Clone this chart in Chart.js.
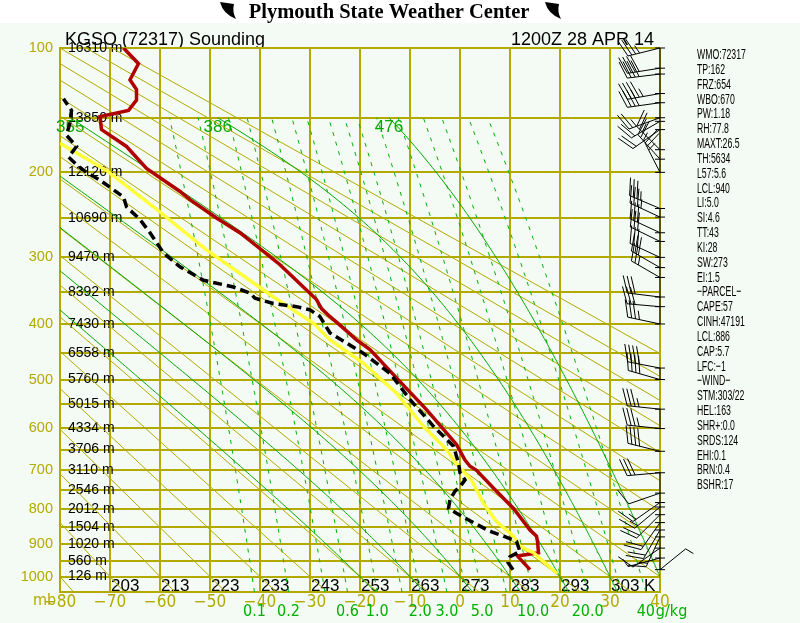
<!DOCTYPE html>
<html>
<head>
<meta charset="utf-8">
<script src="https://cdn.jsdelivr.net/npm/chart.js@4.4.1/dist/chart.umd.min.js"></script>
<style>
  html, body { margin: 0; padding: 0; background: #f4faf4; }
  #wrap { width: 800px; height: 623px; }
</style>
</head>
<body>
<div id="wrap"><canvas id="stuve" width="800" height="623"></canvas></div>
<script>
// sounding values: pressure (mb) and temperature (C)
const tempP = [978, 936, 926, 892, 877, 859, 799, 753, 700, 690, 675, 638, 561, 504, 444, 427, 402, 388, 375, 361, 310, 268, 250, 229, 220, 196, 175, 160, 149, 144, 136, 128, 121, 110, 100];
const tempC = [14.0, 11.5, 15.7, 15.5, 15.3, 14.0, 10.7, 7.3, 3.3, 2.0, 1.0, -0.7, -6.7, -12.0, -18.0, -20.7, -24.0, -26.0, -27.7, -28.7, -36.0, -44.0, -48.7, -54.0, -56.0, -62.7, -66.7, -71.7, -72.0, -66.3, -64.7, -64.7, -66.0, -64.3, -67.3];

const dewP = [978, 956, 938, 922, 892, 877, 863, 833, 812, 799, 775, 753, 741, 724, 706, 682, 642, 597, 540, 488, 451, 415, 388, 377, 372, 367, 359, 351, 342, 332, 313, 294, 268, 252, 237, 226, 208, 200, 194, 185, 175, 165, 154, 144, 135];
const dewC = [10.6, 9.6, 10.0, 12.0, 11.3, 8.7, 6.0, 2.0, -0.7, -2.3, -2.0, -1.0, 0.0, 1.0, 0.0, -0.3, -1.3, -5.3, -10.0, -14.0, -19.3, -26.0, -28.0, -30.0, -32.7, -37.3, -41.0, -42.0, -45.3, -51.3, -56.0, -59.3, -62.0, -64.0, -66.7, -67.3, -72.0, -74.7, -76.3, -78.3, -76.7, -78.7, -78.0, -77.7, -79.3];

const parcelP = [990, 926, 907, 877, 835, 785, 724, 690, 650, 597, 527, 469, 439, 427, 399, 357, 290, 237, 198, 172];
const parcelC = [19.4, 14.7, 12.0, 10.7, 7.3, 4.7, 2.3, -0.3, -2.7, -7.3, -12.7, -19.3, -24.0, -26.0, -29.3, -37.3, -50.7, -61.3, -70.7, -80.0];

// winds: direction (deg) and speed (kt)
const windP = [100, 113, 117, 131, 138, 150, 153, 160, 178, 187, 200, 239, 249, 268, 279, 300, 314, 328, 357, 372, 400, 478, 500, 560, 602, 654, 706, 758, 783, 795, 816, 838, 859, 879, 912, 942, 978];
const windDir = [256, 261, 263, 260, 262, 250, 240, 235, 315, 318, 333, 293, 295, 295, 296, 295, 300, 300, 277, 275, 282, 281, 286, 276, 276, 284, 265, 251, 235, 230, 225, 215, 210, 205, 235, 255, 51];
const windKt = [35, 40, 40, 45, 40, 25, 20, 20, 25, 25, 25, 35, 35, 30, 30, 30, 30, 25, 30, 30, 35, 40, 40, 35, 35, 40, 30, 10, 15, 15, 20, 20, 20, 15, 10, 5, 5];

// heights of the mandatory levels
const heightP = [100, 150, 200, 250, 300, 350, 400, 450, 500, 550, 600, 650, 700, 750, 800, 850, 900, 950, 1000];
const heightM = [16310, 13850, 12120, 10690, 9470, 8392, 7430, 6558, 5760, 5015, 4334, 3706, 3110, 2546, 2012, 1504, 1020, 560, 126];

// background lines of the diagram
const pressureTicks = [100, 150, 200, 250, 300, 350, 400, 450, 500, 550, 600, 650, 700, 750, 800, 850, 900, 950, 1000, 1050];
const dryThetaK = [193, 203, 213, 223, 233, 243, 253, 263, 273, 283, 293, 303, 313, 323, 333, 343, 353, 363, 373, 383, 393];
const thetaLabelK = [203, 213, 223, 233, 243, 253, 263, 273, 283, 293, 303];
const mixRatios = [0.1, 0.2, 0.4, 0.6, 1, 1.5, 2, 3, 4, 5, 7, 10, 15, 20, 30, 40];
const mixLabelW = [0.1, 0.2, 0.6, 1, 2, 3, 5, 10, 20, 40];
const mixLabelText = ['0.1', '0.2', '0.6', '1.0', '2.0', '3.0', '5.0', '10.0', '20.0', '40'];
const moistStartC = [-20, -10, 0, 10, 20, 30, 40];
const moistLabel = ['', '', '', '', '355', '386', '476'];

const statLines = ['WMO:72317', 'TP:162', 'FRZ:654', 'WBO:670', 'PW:1.18', 'RH:77.8', 'MAXT:26.5', 'TH:5634',
  'L57:5.6', 'LCL:940', 'LI:5.0', 'SI:4.6', 'TT:43', 'KI:28', 'SW:273', 'EI:1.5', '\u2212PARCEL\u2212',
  'CAPE:57', 'CINH:47191', 'LCL:886', 'CAP:5.7', 'LFC:\u22121', '\u2212WIND\u2212', 'STM:303/22', 'HEL:163',
  'SHR+:0.0', 'SRDS:124', 'EHI:0.1', 'BRN:0.4', 'BSHR:17'];

const OLIVE = '#b2aa00';
const GREEN = '#00a800';
const KAPPA = 0.286;
const SANS = "'Liberation Sans', sans-serif";
const NARROW = "'Liberation Sans Narrow', 'DejaVu Sans Condensed', sans-serif";

function kp(p) { return Math.pow(p, KAPPA); }

function profile(ps, ts) {
  return ps.map((p, i) => ({ x: ts[i], y: kp(p) }));
}

// dry adiabats are straight in T vs p^kappa
function dryAdiabat(theta) {
  return [1050, 100].map(p => ({ x: (theta + 0.15) * Math.pow(p / 1000, KAPPA) - 273.15, y: kp(p) }));
}

function dewFromVap(e) {
  const s = Math.log(e / 6.112);
  return 243.5 * s / (17.67 - s);
}

function mixLine(w) {
  const pts = [];
  for (let p = 1050; p >= 150; p -= 25) pts.push({ x: dewFromVap(w * p / (622 + w)), y: kp(p) });
  return pts;
}

function satMix(p, tk) {
  const es = 6.112 * Math.exp(17.67 * (tk - 273.15) / (tk - 29.65));
  return 0.622 * es / (p - es);
}

function lapse(p, tk) {
  const rs = satMix(p, tk);
  return (287.04 * tk + 2.501e6 * rs) / p / (1005.7 + 2.501e6 * 2.501e6 * rs * 0.622 / (287.04 * tk * tk));
}

function moistLine(t0) {
  const lower = [];
  let tk = t0 + 273.15;
  for (let p = 1000; p < 1050; p += 5) {
    const k1 = lapse(p, tk);
    tk += 5 * lapse(p + 2.5, tk + 2.5 * k1);
    lower.push({ x: tk - 273.15, y: kp(p + 5) });
  }
  lower.reverse();
  tk = t0 + 273.15;
  const upper = [{ x: t0, y: kp(1000) }];
  for (let p = 1000; p > 150; p -= 5) {
    const k1 = lapse(p, tk);
    tk -= 5 * lapse(p - 2.5, tk - 2.5 * k1);
    upper.push({ x: tk - 273.15, y: kp(p - 5) });
  }
  return lower.concat(upper);
}

function lineSet(data, color, width, dash) {
  return { data, showLine: true, borderColor: color, borderWidth: width, borderDash: dash || [],
    pointRadius: 0, pointHoverRadius: 0, fill: false, tension: 0 };
}

const moistLines = moistStartC.map(moistLine);

// first dataset is drawn on top
const datasets = [
  lineSet(profile(dewP, dewC), '#000000', 3.5, [9, 5]),
  lineSet(profile(parcelP, parcelC), '#ffff3a', 3.5),
  lineSet(profile(tempP, tempC), '#b00000', 3.5)
];
moistLines.forEach(d => datasets.push(lineSet(d, GREEN, 1)));
mixRatios.forEach(w => datasets.push(lineSet(mixLine(w), '#00b400', 1, [4, 6])));
dryThetaK.forEach(t => datasets.push(lineSet(dryAdiabat(t), OLIVE, 1)));

function drawFlag(ctx, x0) {
  ctx.beginPath();
  ctx.moveTo(x0, 2);
  ctx.lineTo(x0 + 14, 4);
  ctx.quadraticCurveTo(x0 + 12, 12, x0 + 16, 19);
  ctx.quadraticCurveTo(x0 + 3, 14, x0, 2);
  ctx.fill();
}

const backdrop = {
  id: 'backdrop',
  beforeDraw(chart) {
    const ctx = chart.ctx;
    ctx.save();
    ctx.fillStyle = '#f4faf4';
    ctx.fillRect(0, 0, 800, 623);
    ctx.fillStyle = '#ffffff';
    ctx.fillRect(0, 0, 800, 23);
    ctx.fillStyle = '#000';
    drawFlag(ctx, 220);
    drawFlag(ctx, 545);
    ctx.font = "bold 20.5px 'Liberation Serif', serif";
    ctx.textAlign = 'center';
    ctx.textBaseline = 'alphabetic';
    ctx.fillText('Plymouth State Weather Center', 389, 18);
    ctx.font = '18px ' + SANS;
    ctx.textAlign = 'left';
    ctx.fillText('KGSO (72317) Sounding', 65, 45);
    ctx.textAlign = 'right';
    ctx.fillText('1200Z 28 APR 14', 654, 45);
    ctx.textAlign = 'left';
    ctx.textBaseline = 'middle';
    ctx.font = '15px ' + SANS;
    statLines.forEach((s, i) => {
      ctx.save();
      ctx.translate(697, 55 + i * 14.83);
      ctx.scale(0.58, 1);
      ctx.fillText(s, 0, 0);
      ctx.restore();
    });
    ctx.restore();
  }
};

const labels = {
  id: 'labels',
  beforeDatasetsDraw(chart) {
    const { ctx, chartArea, scales: { x, y } } = chart;
    ctx.save();
    ctx.fillStyle = '#000';
    ctx.font = '14px ' + SANS;
    ctx.textAlign = 'left';
    ctx.textBaseline = 'middle';
    heightP.forEach((p, i) => ctx.fillText(heightM[i] + ' m', chartArea.left + 8, y.getPixelForValue(kp(p))));

    ctx.font = '17px ' + SANS;
    ctx.textBaseline = 'alphabetic';
    thetaLabelK.forEach((k, i) => {
      const txt = i === thetaLabelK.length - 1 ? k + ' K' : String(k);
      ctx.fillText(txt, x.getPixelForValue(k - 273) + 1, chartArea.bottom - 1);
    });

    ctx.fillStyle = '#00b000';
    ctx.font = '16px ' + NARROW;
    ctx.textAlign = 'center';
    ctx.textBaseline = 'middle';
    mixLabelW.forEach((w, i) => {
      const px = x.getPixelForValue(dewFromVap(w * 1050 / (622 + w)));
      ctx.fillText(mixLabelText[i], px, 612);
      if (i === mixLabelW.length - 1) {
        ctx.textAlign = 'left';
        ctx.fillText('g/kg', px + 10, 612);
      }
    });

    ctx.fillStyle = GREEN;
    ctx.font = '17px ' + SANS;
    ctx.textAlign = 'center';
    ctx.textBaseline = 'top';
    moistLines.forEach((d, i) => {
      if (!moistLabel[i]) return;
      const top = d[d.length - 1];
      const px = Math.max(x.getPixelForValue(top.x), chartArea.left + 8);
      ctx.fillText(moistLabel[i], px, y.getPixelForValue(top.y) + 1);
    });

    ctx.fillStyle = OLIVE;
    ctx.font = '16px ' + NARROW;
    ctx.textAlign = 'left';
    ctx.fillText('mb', 33, 593);
    ctx.restore();
  }
};

function drawBarb(ctx, bx, by, dir, kt) {
  const a = dir * Math.PI / 180;
  const ux = Math.sin(a), uy = -Math.cos(a);
  const L = 33, B = 18, gap = 4;
  const tx = bx + ux * L, ty = by + uy * L;
  const r = 70 * Math.PI / 180;
  const vx = ux * Math.cos(r) - uy * Math.sin(r);
  const vy = ux * Math.sin(r) + uy * Math.cos(r);
  ctx.beginPath();
  ctx.moveTo(bx, by);
  ctx.lineTo(tx, ty);
  let left = Math.round(kt / 5) * 5;
  let pos = 0;
  while (left >= 10) {
    const sx = tx - ux * pos, sy = ty - uy * pos;
    ctx.moveTo(sx, sy);
    ctx.lineTo(sx + vx * B, sy + vy * B);
    pos += gap;
    left -= 10;
  }
  if (left >= 5) {
    const sx = tx - ux * pos, sy = ty - uy * pos;
    ctx.moveTo(sx, sy);
    ctx.lineTo(sx + vx * B / 2, sy + vy * B / 2);
  }
  ctx.stroke();
}

const barbs = {
  id: 'barbs',
  afterDatasetsDraw(chart) {
    const { ctx, scales: { x, y } } = chart;
    const x0 = x.getPixelForValue(40);
    const ys = windP.map(p => y.getPixelForValue(kp(p)));
    ctx.save();
    ctx.strokeStyle = '#000';
    ctx.lineWidth = 1;
    ctx.beginPath();
    for (let i = 1; i < ys.length; i++) {
      if (ys[i] - ys[i - 1] <= 21) {
        ctx.moveTo(x0, ys[i - 1]);
        ctx.lineTo(x0, ys[i]);
      }
    }
    ys.forEach(v => { ctx.moveTo(x0 - 5, v); ctx.lineTo(x0 + 5, v); });
    ctx.stroke();
    windP.forEach((p, i) => drawBarb(ctx, x0, ys[i], windDir[i], windKt[i]));
    ctx.restore();
  }
};

new Chart(document.getElementById('stuve'), {
  type: 'scatter',
  data: { datasets },
  options: {
    responsive: false,
    animation: false,
    devicePixelRatio: 1,
    events: [],
    layout: { padding: { top: 48, right: 140, left: 0, bottom: 0 } },
    plugins: { legend: { display: false }, tooltip: { enabled: false } },
    scales: {
      x: {
        type: 'linear', position: 'bottom', min: -80, max: 40,
        afterFit: s => { s.height = 31; },
        grid: { color: OLIVE, lineWidth: 2, drawTicks: false },
        border: { display: true, color: OLIVE, width: 2 },
        ticks: {
          stepSize: 10, autoSkip: false, maxRotation: 0, padding: 0, color: OLIVE,
          font: { family: NARROW, size: 17 },
          callback: v => (v < 0 ? '\u2212' + Math.abs(v) : String(v))
        }
      },
      y: {
        type: 'linear', position: 'left', reverse: true, min: kp(100), max: kp(1050),
        afterFit: s => { s.width = 60; },
        afterBuildTicks: s => { s.ticks = pressureTicks.map(p => ({ value: kp(p) })); },
        grid: { color: OLIVE, lineWidth: 2, drawTicks: false },
        border: { display: true, color: OLIVE, width: 2 },
        ticks: {
          autoSkip: false, padding: 7, color: OLIVE,
          font: { family: SANS, size: 14.5 },
          callback: v => {
            const p = Math.round(Math.pow(v, 1 / KAPPA));
            return (p % 100 === 0 && p <= 1000) ? String(p) : '';
          }
        }
      }
    }
  },
  plugins: [backdrop, labels, barbs]
});
</script>
</body>
</html>
